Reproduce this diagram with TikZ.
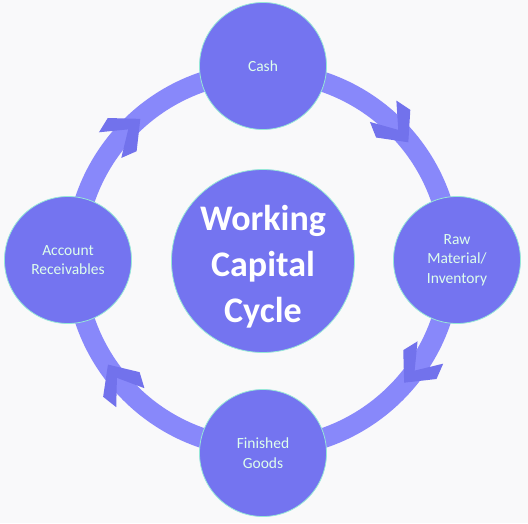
\documentclass[tikz,border=0pt]{standalone}
\usepackage{fontspec}
\setmainfont{Carlito}
\definecolor{bgcol}{RGB}{249,249,250}
\definecolor{circcol}{RGB}{116,116,240}
\definecolor{ringcol}{RGB}{136,136,250}
\definecolor{chevcol}{RGB}{114,114,236}
\definecolor{edgecol}{RGB}{150,232,215}
\definecolor{txtcol}{RGB}{222,255,236}
\begin{document}
\begin{tikzpicture}[x=1pt,y=1pt,
  stage/.style={circle,fill=circcol,draw=edgecol,line width=0.8pt,minimum size=127pt,inner sep=0pt,
    text=txtcol,align=center,font=\fontsize{15.5}{19.5}\selectfont},
  hub/.style={circle,fill=circcol,draw=edgecol,line width=0.8pt,minimum size=183pt,inner sep=0pt},
  hubtxt/.style={text=white,align=center,font=\fontsize{36}{46}\selectfont\bfseries},
  ring/.style={draw=ringcol,line width=20pt},
  chev/.pic={\fill[chevcol] (0,0) -- (-24,22) -- (-40,17) -- (-16,0) -- (-40,-17) -- (-24,-22) -- cycle;}
]
\fill[bgcol] (-263,-263) rectangle (265,260);
\useasboundingbox (-263,-263) rectangle (265,260);
\coordinate (c) at (0,0);
\draw[ring] (c) circle[radius=188];
\foreach \a in {39,-41,214,131}{
  \pic[rotate=\a-90] at (\a:187) {chev};
}
\node[hub] (hubnode) at (0,-1) {};
\node[hubtxt] (hubtext) at (0,-7) {Working\\Capital\\Cycle};
\node[stage] (cash) at (0,194) {Cash};
\node[stage] (raw) at (194,0) {Raw\\Material/\\Inventory};
\node[stage] (fin) at (0,-193) {Finished\\Goods};
\node[stage] (acc) at (-195,0) {Account\\Receivables};
\end{tikzpicture}
\end{document}
